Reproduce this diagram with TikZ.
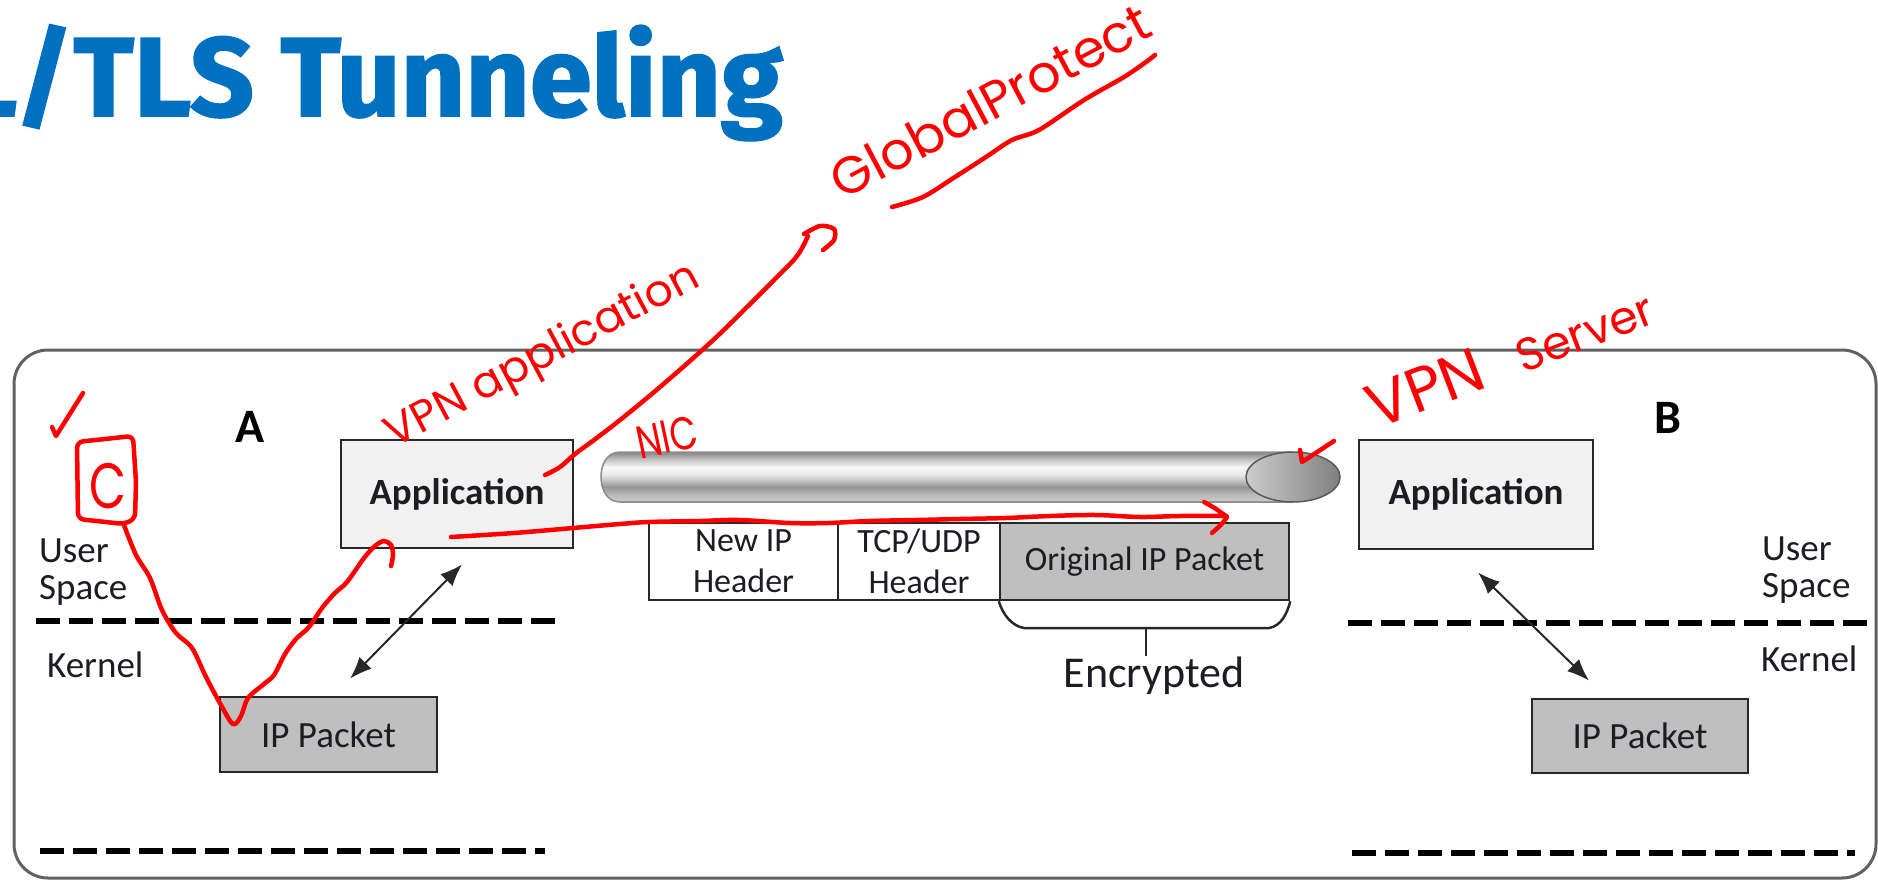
\documentclass[tikz,border=0pt]{standalone}
\usepackage{fontspec}
\setmainfont{Carlito}
\newfontfamily\titlefont{Fira Sans}[BoldFeatures={FakeBold=1.6}]
\newfontfamily\handfont{Poppins}
\usetikzlibrary{arrows.meta,calc}

\definecolor{titleblue}{RGB}{0,112,192}
\definecolor{penred}{RGB}{255,0,0}
\definecolor{appfill}{RGB}{241,241,241}
\definecolor{pktgray}{RGB}{191,191,191}
\definecolor{labelink}{RGB}{28,28,36}
\definecolor{edgegray}{RGB}{40,40,40}

% metal tube: colour varies from the lower edge (25bp) to the upper edge (75bp)
\pgfdeclareverticalshading{pipeshade}{100bp}{%
  color(0bp)=(black!45); color(25bp)=(black!45); color(27bp)=(black!22);
  color(33bp)=(black!28); color(40bp)=(black!42); color(47bp)=(black!22);
  color(53bp)=(black!8); color(60bp)=(black!3); color(68bp)=(black!25);
  color(75bp)=(black!48); color(100bp)=(black!48)}

\begin{document}
\begin{tikzpicture}[x=1pt,y=-1pt,
  frame/.style={draw=black!62, line width=3pt, rounded corners=34pt},
  appbox/.style={draw=edgegray, line width=2.8pt, fill=appfill, text=labelink,
    font=\fontsize{37}{40}\selectfont\bfseries, inner sep=0pt},
  ipbox/.style={draw=edgegray, line width=2.8pt, fill=pktgray, text=labelink,
    font=\fontsize{37}{40}\selectfont, inner sep=0pt},
  cell/.style={draw=edgegray, line width=2.5pt, text=labelink,
    font=\fontsize{34}{41}\selectfont, align=center, inner sep=0pt},
  hostlbl/.style={text=black, font=\fontsize{48}{50}\selectfont\bfseries, inner sep=0pt},
  spacelbl/.style={text=labelink, font=\fontsize{37}{37}\selectfont, align=left, inner sep=0pt},
  layerline/.style={line width=6pt, dash pattern=on 24pt off 9pt},
  dblarrow/.style={line width=2pt, draw=edgegray,
    {Latex[length=22pt,width=17pt]}-{Latex[length=22pt,width=17pt]}},
  pen/.style={draw=penred, line width=4.5pt, line cap=round, line join=round},
  hand/.style={text=penred, inner sep=0pt}
]
\useasboundingbox (0,0) rectangle (1878,880);
\clip (0,0) rectangle (1878,880);

% heading
\node[font=\titlefont\fontsize{112}{120}\selectfont\bfseries, text=titleblue,
      anchor=base east, inner sep=0pt] (title) at (783,116) {L/TLS Tunneling};

% outer frame
\draw[frame] (14,350) rectangle (1876,878);

% hosts
\node[hostlbl, anchor=base] (hostA) at (250,442) {A};
\node[hostlbl, anchor=base] (hostB) at (1668,433) {B};

\node[appbox, minimum width=232pt, minimum height=108pt] (appA) at (457,494) {Application};
\node[appbox, minimum width=234pt, minimum height=109pt] (appB) at (1476,494.5) {Application};
\node[ipbox, minimum width=217pt, minimum height=75pt] (ipA) at (328.5,734.5) {IP Packet};
\node[ipbox, minimum width=216pt, minimum height=74pt] (ipB) at (1640,736) {IP Packet};

\node[spacelbl, anchor=north west] (userA) at (39,539) {User\\Space};
\node[spacelbl, anchor=north west] (userB) at (1762,537) {User\\Space};
\node[spacelbl, anchor=base west] (kernA) at (47,677) {Kernel};
\node[spacelbl, anchor=base west] (kernB) at (1761,671) {Kernel};

% user / kernel boundaries
\draw[layerline] (36,621) -- (559,621);
\draw[layerline] (1348,623) -- (1870,623);
\draw[layerline] (40,851) -- (545,851);
\draw[layerline] (1352,853) -- (1855,853);

\draw[dblarrow] ($(appA.south)+(5,15)$) -- ($(ipA.north)+(21.5,-17)$);
\draw[dblarrow] ($(appB.south)+(2,22)$) -- ($(ipB.north)+(-51,-17)$);

% tunnel
\shade[shading=pipeshade] (1293,452) -- (620,452)
  .. controls (606,452) and (601,466) .. (601,477)
  .. controls (601,488) and (606,502) .. (620,502) -- (1293,502) -- cycle;
\draw[black!45, line width=1.5pt] (1293,452) -- (620,452)
  .. controls (606,452) and (601,466) .. (601,477)
  .. controls (601,488) and (606,502) .. (620,502) -- (1293,502);
\shade[left color=black!20, right color=black!50, draw=black!65, line width=1.5pt]
  (1293,477) ellipse [x radius=47, y radius=25];

% tunnelled packet
\node[cell, minimum width=189pt, minimum height=77pt] (newip) at (743.5,561.5) {New IP\\Header};
\node[cell, minimum width=162pt, minimum height=77pt] (tcpudp) at (919,561.5) {TCP/UDP\\Header};
\node[cell, fill=pktgray, minimum width=289pt, minimum height=77pt] (orig) at (1144.5,561.5) {Original IP Packet};
\draw[edgegray, line width=2.5pt] (orig.south west) .. controls (1003,615) and (1012,626) .. (1024,628)
  -- (1269,628) .. controls (1281,626) and (1287,614) .. (orig.south east);
\node[font=\fontsize{44}{48}\selectfont, text=labelink, anchor=base, inner sep=0pt] (enc) at (1154,687) {Encrypted};
\coordinate (bracetip) at (1146,628);
\draw[edgegray, line width=2pt] (bracetip) -- (bracetip |- enc.north);

% red pen notes
\draw[pen] (52,427) -- (56,436) -- (83,393);
\draw[pen, rounded corners=6pt] (77,442) -- (133,436) -- (136,482) -- (135,519) -- (124,524) -- (78,519) -- cycle;
\node[hand, font=\handfont\fontsize{64}{64}\selectfont] (cmark) at (108,486) {\scalebox{0.75}[1]{C}};
\draw[pen] plot[smooth, tension=0.55] coordinates {(124,525) (136,555) (150,578) (162,610) (176,633)
  (192,648) (206,677) (221,705) (233,724) (241,716) (248,698) (264,684) (274,675) (285,654) (296,639)
  (309,627) (322,608) (335,593) (347,582) (364,558) (375,546) (384,541) (391,545) (393,555) (391,566)};

\draw[pen] plot[smooth, tension=0.6] coordinates {(451,537) (514,533) (573,528) (620,524) (649,522)
  (700,521) (739,520) (790,523) (828,523) (870,521) (917,520) (960,519) (1006,518) (1050,516)
  (1096,515) (1140,517) (1180,516) (1226,516)};
\draw[pen] (1204,502) .. controls (1215,508) .. (1227,517) .. controls (1222,524) .. (1212,533);

\draw[pen] plot[smooth, tension=0.6] coordinates {(545,475) (560,467) (575,454) (594,440) (620,420)
  (660,387) (710,343) (744,310) (777,277) (797,256) (808,236)};
\draw[pen] plot[smooth] coordinates {(804,234) (820,226) (834,229) (834,240) (823,250)};

\node[hand, rotate=28, font=\handfont\fontsize{44}{44}\selectfont] (vpnapp) at (543,357) {VPN application};
\node[hand, rotate=28, font=\handfont\fontsize{52}{52}\selectfont] (gp) at (990,101) {GlobalProtect};
\draw[pen] plot[smooth] coordinates {(892,207) (923,197) (955,177) (986,157) (1012,140) (1039,130)
  (1084,100) (1124,77) (1146,62) (1155,55)};
\node[hand, rotate=12, font=\handfont\fontsize{42}{42}\selectfont] (nic) at (667,437) {\scalebox{0.85}[1.1]{NIC}};
\node[hand, rotate=21, anchor=base west] (vpnsrv) at (1376,430)
  {{\fontsize{62}{62}\handfont VPN}\hspace{36pt}{\fontsize{46}{46}\handfont Server}};
\draw[pen] (1300,450) -- (1302,462) -- (1334,441);
\end{tikzpicture}
\end{document}
